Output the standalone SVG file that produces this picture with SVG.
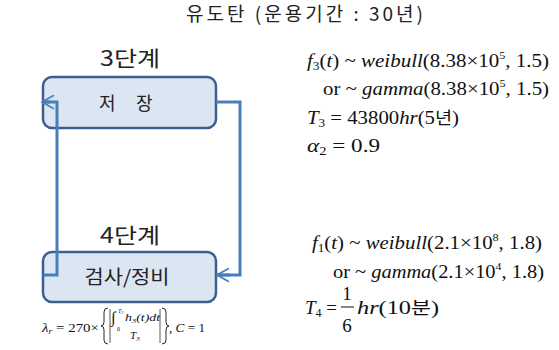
<svg xmlns="http://www.w3.org/2000/svg" width="559" height="350" viewBox="0 0 559 350">
<defs>
<style>
.k{font-family:"Noto Sans CJK KR","Noto Sans",sans-serif;fill:#222}
.m{font-family:"Liberation Serif","Times New Roman",serif;fill:#111}
.i{font-style:italic}
.box{fill:#dce6f2;stroke:#3d5f8f;stroke-width:2.5}
.con{fill:none;stroke:#4a7ebb;stroke-width:3}
</style>
<marker id="ah" viewBox="0 0 10 10" refX="9" refY="5" markerWidth="5" markerHeight="5" orient="auto" markerUnits="strokeWidth">
<path d="M1,0.5 L9,5 L1,9.5" fill="none" stroke="#4a7ebb" stroke-width="1.1"/>
</marker>
</defs>
<rect width="559" height="350" fill="#fff"/>
<text class="k" x="186" y="21" font-size="19" textLength="237" lengthAdjust="spacing">유도탄 (운용기간 : 30년)</text>
<g id="stage3">
<text class="k" x="130" y="66" font-size="21" text-anchor="middle" textLength="60" lengthAdjust="spacingAndGlyphs">3단계</text>
<rect class="box" x="43" y="77" width="173" height="51" rx="9"/>
<text class="k" font-size="18"><tspan x="99" y="110">저</tspan><tspan x="136" y="110">장</tspan></text>
</g>
<g id="stage4">
<text class="k" x="130" y="243" font-size="21" text-anchor="middle" textLength="60" lengthAdjust="spacingAndGlyphs">4단계</text>
<rect class="box" x="43" y="252" width="173" height="50" rx="9"/>
<text class="k" x="127" y="284" font-size="19" text-anchor="middle" textLength="85" lengthAdjust="spacingAndGlyphs">검사/정비</text>
</g>
<g id="connectors">
<path class="con" d="M216,102 H240 V275 H218"/>
<path class="con" d="M230,275 H217" marker-end="url(#ah)"/>
<path class="con" d="M43,275 H57 V102 H42"/>
<path class="con" d="M50,102 H42" marker-end="url(#ah)"/>
</g>
<g id="formula-lambda">
<text class="m" x="42" y="332" font-size="12" textLength="57" lengthAdjust="spacingAndGlyphs"><tspan class="i">λ</tspan><tspan font-size="8" dy="2" class="i">r</tspan><tspan dy="-2"> = 270×</tspan></text>
<path d="M108,308 q-4,0 -4,4 v10 q0,4 -3,4 q3,0 3,4 v10 q0,4 4,4" fill="none" stroke="#111" stroke-width="0.9"/>
<line x1="110" y1="309" x2="110" y2="343" stroke="#111" stroke-width="0.7"/>
<text class="m" x="111" y="323" font-size="16">∫</text>
<text class="m" x="117" y="331" font-size="6">0</text>
<text class="m i" x="118" y="313" font-size="6">T<tspan font-size="4" dy="1">3</tspan></text>
<text class="m i" x="125" y="321" font-size="11" textLength="35" lengthAdjust="spacingAndGlyphs">h<tspan font-size="7" dy="2">3</tspan><tspan dy="-2">(t)dt</tspan></text>
<text class="m i" x="130" y="339" font-size="11">T<tspan font-size="7" dy="2">3</tspan></text>
<line x1="160" y1="309" x2="160" y2="343" stroke="#111" stroke-width="0.7"/>
<path d="M162,308 q4,0 4,4 v10 q0,4 3,4 q-3,0 -3,4 v10 q0,4 -4,4" fill="none" stroke="#111" stroke-width="0.9"/>
<text class="m" x="169" y="332" font-size="12" textLength="36" lengthAdjust="spacingAndGlyphs">, <tspan class="i">C</tspan> = 1</text>
</g>
<g id="formulas-stage3" class="m" font-size="19">
<text x="307" y="67" textLength="242" lengthAdjust="spacingAndGlyphs"><tspan class="i">f</tspan><tspan font-size="12" dy="3">3</tspan><tspan dy="-3">(</tspan><tspan class="i">t</tspan>) ~ <tspan class="i">weibull</tspan>(8.38×10<tspan font-size="11" dy="-8">5</tspan><tspan dy="8">, 1.5)</tspan></text>
<text x="323" y="95" textLength="226" lengthAdjust="spacingAndGlyphs">or ~ <tspan class="i">gamma</tspan>(8.38×10<tspan font-size="11" dy="-8">5</tspan><tspan dy="8">, 1.5)</tspan></text>
<text x="307" y="124" textLength="152" lengthAdjust="spacingAndGlyphs"><tspan class="i">T</tspan><tspan font-size="12" dy="3">3</tspan><tspan dy="-3"> = 43800</tspan><tspan class="i">hr</tspan>(5<tspan font-family="Noto Sans CJK KR,sans-serif" font-size="17">년</tspan>)</text>
<text x="307" y="152" textLength="73" lengthAdjust="spacingAndGlyphs"><tspan class="i">α</tspan><tspan font-size="12" dy="3">2</tspan><tspan dy="-3"> = 0.9</tspan></text>
</g>
<g id="formulas-stage4" class="m" font-size="19">
<text x="312" y="249" textLength="230" lengthAdjust="spacingAndGlyphs"><tspan class="i">f</tspan><tspan font-size="12" dy="3">1</tspan><tspan dy="-3">(</tspan><tspan class="i">t</tspan>) ~ <tspan class="i">weibull</tspan>(2.1×10<tspan font-size="11" dy="-8">8</tspan><tspan dy="8">, 1.8)</tspan></text>
<text x="333" y="278" textLength="211" lengthAdjust="spacingAndGlyphs">or ~ <tspan class="i">gamma</tspan>(2.1×10<tspan font-size="11" dy="-8">4</tspan><tspan dy="8">, 1.8)</tspan></text>
<text x="305" y="314"><tspan class="i">T</tspan><tspan font-size="12" dy="3">4</tspan><tspan dy="-3"> = </tspan></text>
<text x="347" y="300" text-anchor="middle">1</text>
<line x1="341" y1="307" x2="354" y2="307" stroke="#111" stroke-width="1"/>
<text x="347" y="332" text-anchor="middle">6</text>
<text x="357" y="314" textLength="82" lengthAdjust="spacingAndGlyphs"><tspan class="i">hr</tspan>(10<tspan font-family="Noto Sans CJK KR,sans-serif" font-size="17">분</tspan>)</text>
</g>
</svg>
